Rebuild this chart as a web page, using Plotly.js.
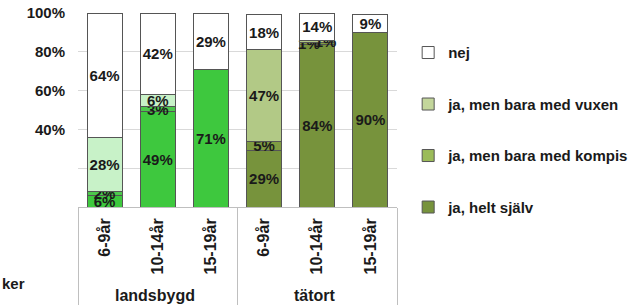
<!DOCTYPE html>
<html><head><meta charset="utf-8">
<script src="https://cdn.plot.ly/plotly-3.0.1.min.js"></script>
<style>body{margin:0;background:#fff}#c{width:628px;height:307px}</style>
</head><body><div id="c"></div>
<script>
const groups = ['landsbygd','landsbygd','landsbygd','tätort','tätort','tätort'];
const ages = ['6-9år','10-14år','15-19år','6-9år','10-14år','15-19år'];
const seriesNames = ['ja, helt själv','ja, men bara med kompis','ja, men bara med vuxen','nej'];
const helt = [6,49,71,29,84,90];
const kompis = [2,3,0,5,1,0];
const vuxen = [28,6,0,47,1,0];
const nej = [64,42,29,18,14,9];
const yTickVals = [20,40,60,80,100];
const yTickText = ['','40%','60%','80%','100%'];

const values = [helt,kompis,vuxen,nej];
const landColors = ['#3ec83e','#4cc84c','#c8f2c8','#ffffff'];
const tatColors = ['#77933c','#7f9c42','#b2c986','#ffffff'];
const legendColors = ['#77933c','#9bbb59','#c3d69b','#ffffff'];
const PAD = '<span style="color:rgba(0,0,0,0)">00</span>';
function lab(d,i){
  if(!(d>0)) return '';
  const s = d+'%';
  if(d<=1 && i===1) return s+PAD;
  if(d<=1 && i===2) return PAD+s;
  return s;
}

const FONT = 'Liberation Sans, Arial, sans-serif';
const traces = values.map((v,i)=>({
  type:'bar', name:seriesNames[i], x:[groups,ages], y:v,
  text:v.map(d=>lab(d,i)), textposition:'inside', insidetextanchor:'middle', textangle:0,
  constraintext:'none', cliponaxis:false,
  textfont:{family:FONT, size:15, color:'#1a1a1a', weight:'bold'},
  marker:{color:groups.map(g=>g==='landsbygd'?landColors[i]:tatColors[i]), line:{color:'#555',width:1}},
  legendgroup:'g'+i, showlegend:false, width:0.66, hoverinfo:'skip'
}));
for(let i=values.length-1;i>=0;i--){
  traces.push({type:'bar', name:seriesNames[i], x:[[groups[0]],[ages[0]]], y:[0], legendgroup:'g'+i,
    marker:{color:legendColors[i], line:{color:'#555',width:1}}, hoverinfo:'skip', showlegend:true});
}

Plotly.newPlot('c', traces, {
  width:628, height:307, barmode:'stack', bargap:0.34,
  margin:{l:78,r:231,t:13,b:100, autoexpand:false},
  paper_bgcolor:'#fff', plot_bgcolor:'#fff',
  font:{family:FONT, size:15, color:'#1a1a1a', weight:'bold'},
  yaxis:{range:[0,100], tickvals:yTickVals, ticktext:yTickText, gridcolor:'#d9d9d9', zeroline:false,
    showline:false, ticks:'', ticklabelstandoff:12, tickfont:{size:15, weight:'bold'}},
  xaxis:{type:'multicategory', tickangle:-90, showline:true, linecolor:'#bfbfbf', showdividers:true,
    dividercolor:'#bfbfbf', dividerwidth:1, tickfont:{size:16, weight:'bold'}, ticks:'', ticklabelstandoff:4},
  legend:{x:1.035, y:0.88, xanchor:'left', yanchor:'top', traceorder:'grouped', tracegroupgap:29,
    font:{size:15, weight:'bold'}, itemwidth:30, bgcolor:'rgba(0,0,0,0)'},
  annotations:[{xref:'paper',yref:'paper',x:-78/319,y:-0.392,xanchor:'left',yanchor:'middle',text:'ker',showarrow:false,font:{size:15,weight:'bold'}}]
}, {displayModeBar:false});
</script></body></html>
